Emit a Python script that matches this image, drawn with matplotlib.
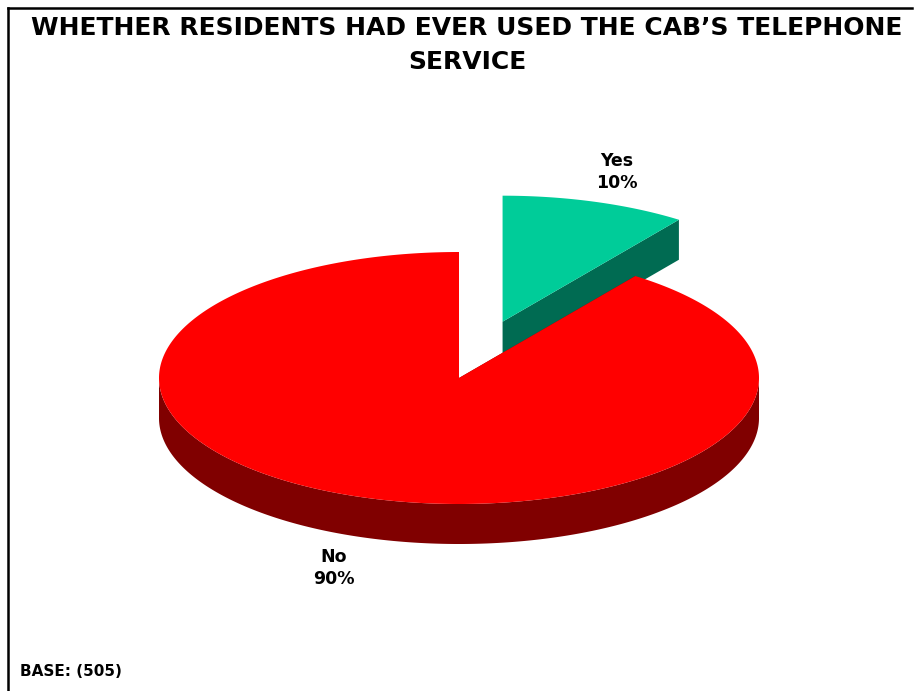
import numpy as np
import matplotlib.pyplot as plt
from matplotlib.patches import Polygon
from matplotlib.lines import Line2D

# ---- data ----
labels = ["Yes", "No"]
values = [10, 90]
pct_labels = ["10%", "90%"]
top_colors = ["#00CC99", "#FF0000"]
side_colors = ["#006B52", "#800000"]
explode = [0.47, 0.0]

title = "WHETHER RESIDENTS HAD EVER USED THE CAB\u2019S TELEPHONE\nSERVICE"
base_note = "BASE: (505)"

# ---- layout (pixels) ----
W, H = 917, 691
cx, cy = 459, 378
a, b = 300, 126
depth = 40
start_angle = 90.0

fig = plt.figure(figsize=(W / 100, H / 100), dpi=100)
ax = fig.add_axes([0, 0, 1, 1])
ax.set_xlim(0, W)
ax.set_ylim(H, 0)
ax.axis("off")

# frame (top and left)
fig.add_artist(Line2D([8 / W, 912 / W], [1 - 8 / H, 1 - 8 / H], color="black", lw=1.8, transform=fig.transFigure))
fig.add_artist(Line2D([8 / W, 8 / W], [1 - 8 / H, 0], color="black", lw=1.8, transform=fig.transFigure))

total = float(sum(values))
slices = []
ang = start_angle
for i, v in enumerate(values):
    sweep = 360.0 * v / total
    t_hi, t_lo = ang, ang - sweep  # clockwise
    ang = t_lo
    mid = np.radians((t_hi + t_lo) / 2)
    ox = explode[i] * a * np.cos(mid)
    oy = -explode[i] * b * np.sin(mid)
    slices.append(dict(i=i, lo=t_lo, hi=t_hi, ox=ox, oy=oy, mid=mid))


def rim(t_deg, ox, oy, dz=0.0):
    t = np.radians(t_deg)
    return cx + ox + a * np.cos(t), cy + oy - b * np.sin(t) + dz


# back slices first
order = sorted(slices, key=lambda s: -np.sin(s["mid"]))
for s in order:
    i, ox, oy = s["i"], s["ox"], s["oy"]
    c0 = (cx + ox, cy + oy)
    # radial faces
    for t in (s["lo"], s["hi"]):
        px, py = rim(t, ox, oy)
        poly = [c0, (px, py), (px, py + depth), (c0[0], c0[1] + depth)]
        ax.add_patch(Polygon(poly, closed=True, facecolor=side_colors[i], edgecolor="none", zorder=2))
    # outer wall (front part)
    ts = np.linspace(s["lo"], s["hi"], 1441)
    front = np.sin(np.radians(ts)) <= 1e-9
    runs = []
    cur = []
    for t, f in zip(ts, front):
        if f:
            cur.append(t)
        elif cur:
            runs.append(cur)
            cur = []
    if cur:
        runs.append(cur)
    for run in runs:
        run = np.array(run)
        xs, ys = rim(run, ox, oy)
        pts = list(zip(xs, ys)) + list(zip(xs[::-1], ys[::-1] + depth))
        ax.add_patch(Polygon(pts, closed=True, facecolor=side_colors[i], edgecolor="none", zorder=2))
    # top face
    tt = np.linspace(s["lo"], s["hi"], 721)
    xs, ys = rim(tt, ox, oy)
    pts = [c0] + list(zip(xs, ys))
    ax.add_patch(Polygon(pts, closed=True, facecolor=top_colors[i], edgecolor="none", zorder=2))

# labels
label_pos = {0: (617, 172), 1: (334, 568)}
for i in range(len(values)):
    x, y = label_pos[i]
    ax.text(x, y, f"{labels[i]}\n{pct_labels[i]}", ha="center", va="center", fontsize=12.5,
            fontweight="bold", family="DejaVu Sans", linespacing=1.25, zorder=5)

ax.text(467, 45, title, ha="center", va="center", fontsize=18, fontweight="bold",
        family="DejaVu Sans", linespacing=1.5, zorder=5)
ax.text(20, 671, base_note, ha="left", va="center", fontsize=11, fontweight="bold",
        family="DejaVu Sans", zorder=5)

fig.savefig("out.png", dpi=100)
